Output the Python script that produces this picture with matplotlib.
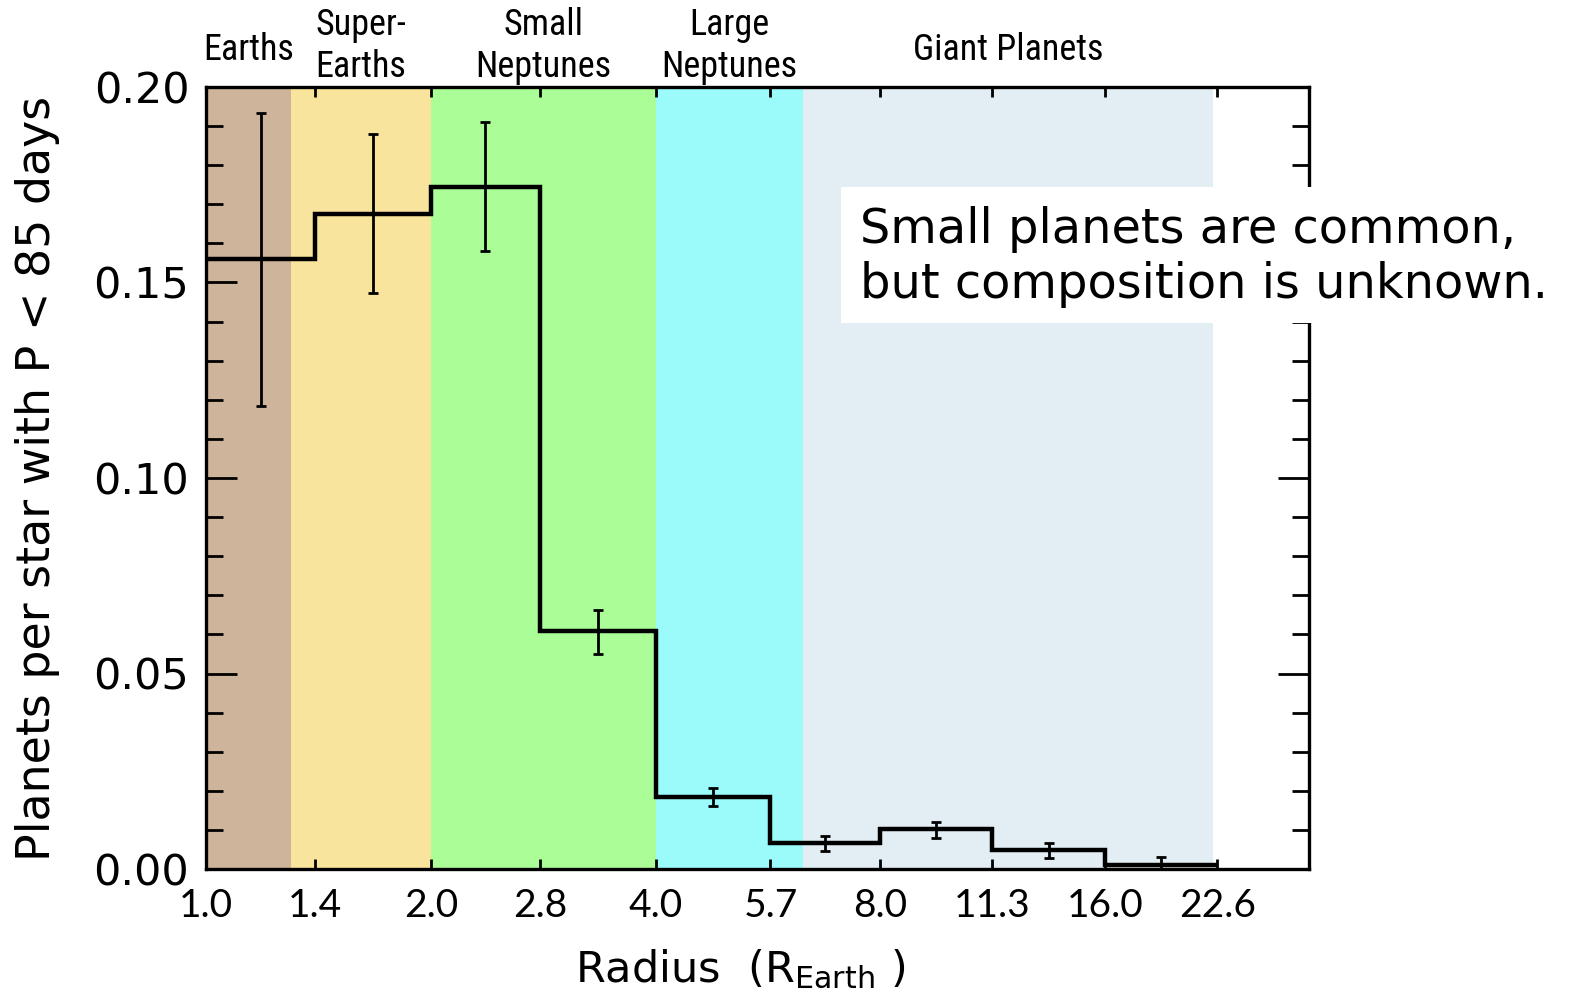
import numpy as np
import matplotlib
matplotlib.use("Agg")
import matplotlib.pyplot as plt
from matplotlib import font_manager
from matplotlib.patches import Rectangle
from matplotlib.ticker import FixedLocator, NullLocator, MultipleLocator


# radius bins (R_Earth) and occurrence per star, P < 85 d
edges = [1.0, 1.4, 2.0, 2.8, 4.0, 5.7, 8.0, 11.3, 16.0, 22.6]
rate = [0.156, 0.1675, 0.1745, 0.0608, 0.0185, 0.0066, 0.0102, 0.0049, 0.0010]
err_top = [0.1933, 0.188, 0.191, 0.0662, 0.0208, 0.0085, 0.0119, 0.0067, 0.0031]
err_bot = [0.1185, 0.1473, 0.158, 0.0550, 0.0161, 0.0046, 0.0080, 0.0027, 0.0]

tick_vals = [1.0, 1.4, 2.0, 2.8, 4.0, 5.7, 8.0, 11.3, 16.0, 22.6]
tick_labels = ["1.0", "1.4", "2.0", "2.8", "4.0", "5.7", "8.0", "11.3", "16.0", "22.6"]

# planet classes: name, lower radius, upper radius, colour
classes = ["Earths", "Super-\nEarths", "Small\nNeptunes", "Large\nNeptunes", "Giant Planets"]
class_lo = [1.0, 1.3, 2.0, 4.0, 6.3]
class_hi = [1.3, 2.0, 4.0, 6.3, 22.3]
class_col = ["#CDB49A", "#F8E49C", "#ABFD98", "#9BFBFB", "#E2EDF4"]


def pick_font(names):
    for n in names:
        try:
            font_manager.findfont(n, fallback_to_default=False)
            return n
        except Exception:
            pass
    return "DejaVu Sans"


narrow = pick_font(["Liberation Sans Narrow", "Roboto Condensed", "Open Sans Condensed", "Liberation Sans"])

fig = plt.figure(figsize=(15.69, 9.98), dpi=100)
ax = fig.add_axes([206 / 1569, 1 - 869 / 998, (1309 - 206) / 1569, (869 - 87) / 998])

edges = np.array(edges)
rate = np.array(rate)
centers = np.sqrt(edges[:-1] * edges[1:])

for lo, hi, c in zip(class_lo, class_hi, class_col):
    ax.axvspan(lo, hi, color=c, lw=0, zorder=0)

ax.stairs(rate, edges, baseline=None, color="black", lw=3.2, zorder=3)
ax.errorbar(centers, rate,
            yerr=[rate - np.array(err_bot), np.array(err_top) - rate],
            fmt="none", ecolor="black", elinewidth=2.0, capsize=3.6, capthick=2.0, zorder=4)

ax.set_xscale("log", base=2)
ax.set_xlim(1.0, 30.0)
ax.set_ylim(0, 0.20)

ax.xaxis.set_major_locator(FixedLocator(tick_vals))
ax.set_xticklabels(tick_labels)
ax.xaxis.set_minor_locator(NullLocator())
ax.yaxis.set_major_locator(MultipleLocator(0.05))
ax.yaxis.set_minor_locator(MultipleLocator(0.01))
ax.yaxis.set_major_formatter(matplotlib.ticker.FormatStrFormatter("%.2f"))

ax.tick_params(axis="x", which="major", direction="in", top=True, length=7, width=2, pad=14)
ax.tick_params(axis="y", which="major", direction="in", right=True, length=22, width=2, pad=12)
ax.tick_params(axis="y", which="minor", direction="in", right=True, length=12, width=2)
for lab in ax.get_xticklabels():
    lab.set_fontfamily("Lato")
    lab.set_fontsize(28)
for lab in ax.get_yticklabels():
    lab.set_fontfamily("DejaVu Sans")
    lab.set_fontsize(31)

for sp in ax.spines.values():
    sp.set_linewidth(2.4)

ax.set_ylabel("Planets per star with P < 85 days", fontsize=33, labelpad=24)
ax.set_xlabel(r"Radius  (R$_{\mathrm{Earth}}$ )", fontsize=31, labelpad=17)
ax.xaxis.label.set_x((740 - 206) / 1103)

# class names above the axes, centred on each band
for name, lo, hi in zip(classes, class_lo, class_hi):
    ypos = 1.052 if "\n" in name else 1.047
    ax.text(np.sqrt(lo * hi), ypos, name, transform=ax.get_xaxis_transform(),
            ha="center", va="center", fontsize=26, family=narrow, linespacing=1.22)

fig.add_artist(Rectangle((841 / 1569, 1 - 323 / 998), (1569 - 841) / 1569, 136 / 998,
                         transform=fig.transFigure, facecolor="white", edgecolor="none", zorder=5))
fig.text(860 / 1569, 1 - 257 / 998, "Small planets are common,\nbut composition is unknown.",
         ha="left", va="center", fontsize=34.5, family="DejaVu Sans", linespacing=1.2, zorder=6)

fig.savefig("out.png", dpi=100)
